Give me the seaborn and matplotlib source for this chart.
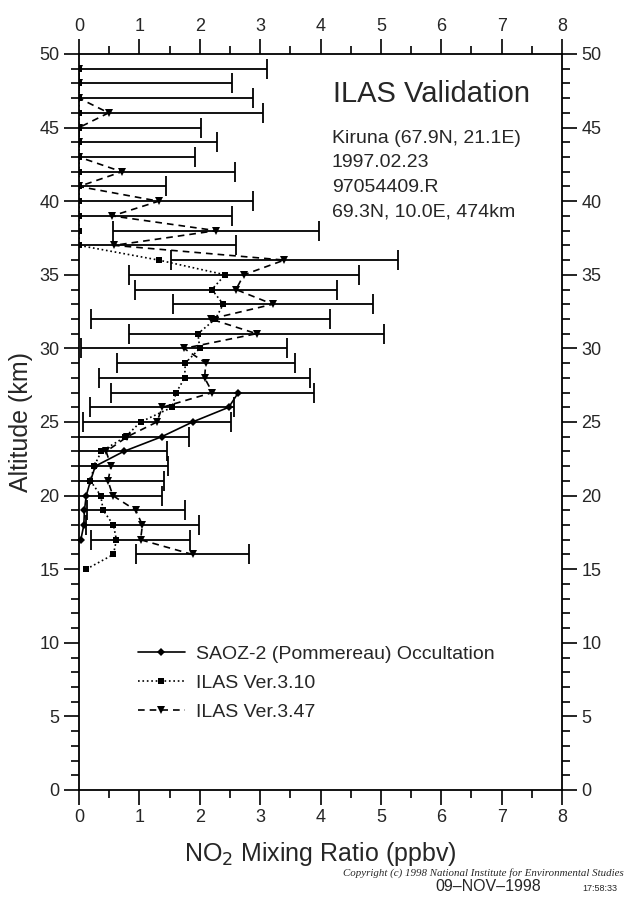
import matplotlib
matplotlib.use("Agg")
import matplotlib.pyplot as plt
from matplotlib.ticker import MultipleLocator
import seaborn as sns

# SAOZ-2 balloon occultation profile (km, ppbv)
saoz_alt = [17, 18, 19, 20, 21, 22, 23, 24, 25, 26, 27]
saoz_no2 = [0.03, 0.08, 0.09, 0.12, 0.19, 0.27, 0.74, 1.37, 1.88, 2.48, 2.64]

# ILAS retrieval version 3.10
v310_alt = list(range(15, 50))
v310_no2 = [0.12, 0.57, 0.62, 0.57, 0.40, 0.36, 0.19, 0.25, 0.37, 0.77,
            1.02, 1.54, 1.61, 1.75, 1.76, 2.00, 1.97, 2.26, 2.39, 2.20,
            2.42, 1.32, 0.0, 0.0, 0.0, 0.0, 0.0, 0.0, 0.0, 0.0,
            0.0, 0.0, 0.0, 0.0, 0.0]

# ILAS retrieval version 3.47 with its error estimate
v347_alt = list(range(16, 50))
v347_no2 = [1.88, 1.02, 1.05, 0.94, 0.56, 0.48, 0.53, 0.45, 0.80, 1.29,
            1.38, 2.21, 2.08, 2.10, 1.74, 2.94, 2.18, 3.21, 2.60, 2.73,
            3.40, 0.58, 2.27, 0.55, 1.32, 0.0, 0.71, 0.0, 0.0, 0.0,
            0.49, 0.0, 0.0, 0.0]
v347_err = [0.94, 0.82, 0.94, 0.81, 0.81, 0.93, 0.94, 1.00, 1.02, 1.22,
            1.19, 1.68, 1.75, 1.47, 1.71, 2.12, 1.98, 1.66, 1.67, 1.91,
            1.88, 2.02, 1.71, 1.99, 1.57, 1.44, 1.87, 1.92, 2.29, 2.02,
            2.56, 2.88, 2.54, 3.11]

x_ticks = list(range(0, 9))
y_ticks = list(range(0, 51, 5))

sns.set_style("ticks")
plt.rcParams["font.family"] = ["Liberation Sans", "DejaVu Sans"]
plt.rcParams["axes.linewidth"] = 1.3

W, H = 632, 907
fig = plt.figure(figsize=(W / 100, H / 100), dpi=100)
ax = fig.add_axes([79 / W, 1 - 790 / H, 483 / W, 736 / H])

# error bars for version 3.47 (clipped at zero by the axis)
ax.errorbar(v347_no2, v347_alt, xerr=v347_err, fmt="none", ecolor="black",
            elinewidth=1.3, capsize=7.5, capthick=1.3, zorder=2)

sns.lineplot(x=saoz_no2, y=saoz_alt, sort=False, estimator=None, ax=ax,
             color="black", linestyle="-", linewidth=1.2, marker="D",
             markersize=4.5, markeredgewidth=0, clip_on=False,
             label="SAOZ-2 (Pommereau) Occultation", zorder=4)
sns.lineplot(x=v310_no2, y=v310_alt, sort=False, estimator=None, ax=ax,
             color="black", linestyle=":", linewidth=1.2, marker="s",
             markersize=5, markeredgewidth=0,
             label="ILAS Ver.3.10", zorder=4)
sns.lineplot(x=v347_no2, y=v347_alt, sort=False, estimator=None, ax=ax,
             color="black", linewidth=1.2, marker="v", dashes=False,
             markersize=6, markeredgewidth=0,
             label="ILAS Ver.3.47", zorder=4)
ax.lines[-1].set_linestyle((0, (4, 3)))

ax.set_xlim(0, 8)
ax.set_ylim(0, 50)
ax.set_xticks(x_ticks)
ax.set_yticks(y_ticks)
ax.xaxis.set_minor_locator(MultipleLocator(0.5))
ax.yaxis.set_minor_locator(MultipleLocator(1))
ax.tick_params(which="both", direction="out", top=True, right=True,
               labeltop=True, labelright=True, labelsize=13, color="black",
               width=1.2, pad=3)
ax.tick_params(which="major", length=11)
ax.tick_params(which="minor", length=6)
for s in ax.spines.values():
    s.set_color("black")

ax.set_xlabel("NO$_2$ Mixing Ratio (ppbv)", fontsize=18)
ax.set_ylabel("Altitude (km)", fontsize=18)
ax.xaxis.set_label_coords(0.5, -0.068)
ax.yaxis.set_label_coords(-0.095, 0.5)

ax.text(4.2, 46.76, "ILAS Validation", fontsize=21, va="baseline")
info = ["Kiruna (67.9N, 21.1E)", "1997.02.23", "97054409.R",
        "69.3N, 10.0E, 474km"]
for line, yb in zip(info, [43.93, 42.3, 40.65, 38.95]):
    ax.text(4.19, yb, line, fontsize=14, va="baseline")

leg = ax.legend(loc="center left", bbox_to_anchor=(0.122, 0.1454),
                frameon=False, borderpad=0, borderaxespad=0, fontsize=14,
                handlelength=2.4, handletextpad=0.6, labelspacing=0.6)

fig.text(343 / W, 1 - 876 / H,
         "Copyright (c) 1998 National Institute for Environmental Studies",
         fontsize=7.8, style="italic", family=["Liberation Serif"],
         va="baseline")
fig.text(435 / W, 1 - 891 / H, "09\u2013NOV\u20131998", fontsize=11.5,
         va="baseline")
fig.text(582 / W, 1 - 891 / H, "17:58:33", fontsize=6.5, va="baseline")

fig.savefig("out.png", dpi=100)
